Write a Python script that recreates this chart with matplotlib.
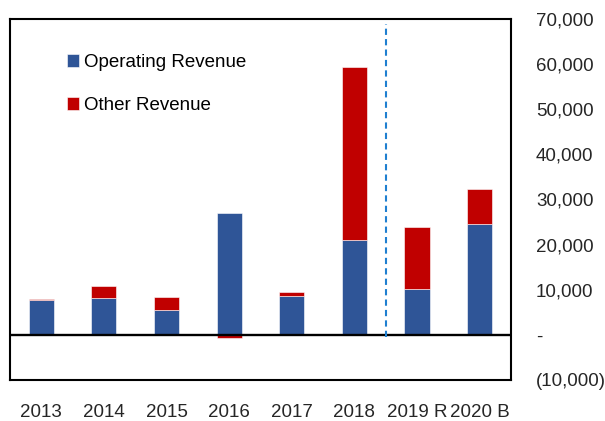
import matplotlib.pyplot as plt
import numpy as np
from matplotlib.ticker import FuncFormatter

# revenue by year
years = ['2013', '2014', '2015', '2016', '2017', '2018', '2019 R', '2020 B']
operating = [7700, 8100, 5500, 27000, 8600, 21000, 10200, 24600]
other = [300, 2700, 2900, -700, 800, 38400, 13700, 7700]

plt.rcParams['font.family'] = ['Liberation Sans', 'DejaVu Sans']

fig = plt.figure(figsize=(6.05, 4.21), dpi=100)
ax = fig.add_axes([0.0165, 0.0974, 0.828, 0.8575])

x = np.arange(len(years))
op = np.array(operating)
ot = np.array(other)
# negative other revenue hangs below zero, positive sits on top of operating
bottoms = np.where(ot < 0, 0, op)

ax.bar(x, op, width=0.4, color='#2F5597', edgecolor='white', linewidth=0.4, label='Operating Revenue')
ax.bar(x, ot, width=0.4, bottom=bottoms, color='#C00000', edgecolor='white', linewidth=0.4, label='Other Revenue')

ax.axhline(0, color='black', lw=1.7)
ax.axvline(5.5, ymin=0.12, ymax=0.985, color='#1F7FD0', lw=1.5, ls=(0, (3, 2)))

ax.set_xlim(-0.5, 7.5)
ax.set_ylim(-10000, 70000)
ax.set_yticks(np.arange(-10000, 70001, 10000))


def fmt(v, pos):
    if v == 0:
        return '-'
    if v < 0:
        return '({:,.0f})'.format(-v)
    return '{:,.0f}'.format(v)


ax.yaxis.set_major_formatter(FuncFormatter(fmt))
ax.yaxis.tick_right()
ax.tick_params(axis='y', length=0, pad=18, labelsize=13.5, colors='#262626')
ax.set_xticks(x)
ax.set_xticklabels(years)
ax.tick_params(axis='x', length=0, pad=17, labelsize=13.5, colors='#262626')

for s in ax.spines.values():
    s.set_linewidth(1.5)
    s.set_color('black')

ax.legend(loc='upper left', bbox_to_anchor=(0.08, 0.95), frameon=False, fontsize=13.5,
          handlelength=0.65, handleheight=0.65, handletextpad=0.25, labelspacing=1.4)

fig.savefig('out.png', dpi=100)
